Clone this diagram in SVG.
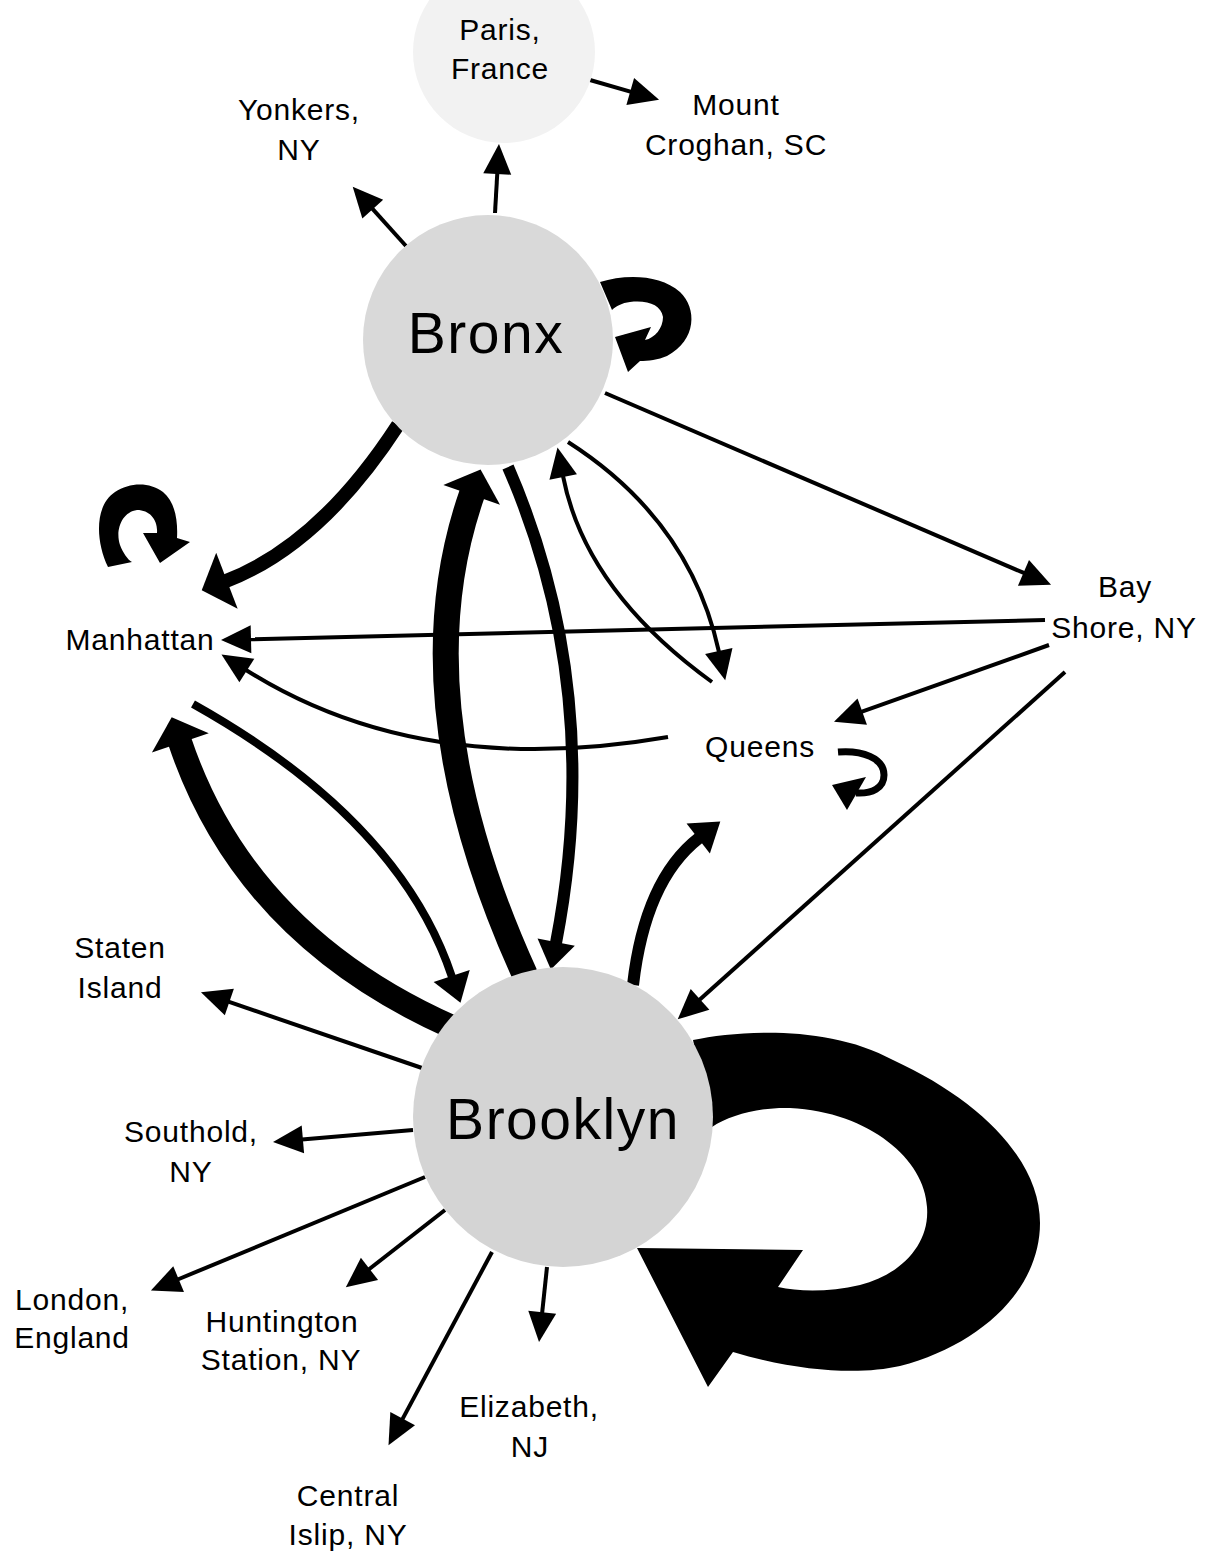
<svg xmlns="http://www.w3.org/2000/svg" width="1217" height="1553" viewBox="0 0 1217 1553">
<defs>
<style>
.lbl{font-family:"Liberation Sans",Arial,sans-serif;font-size:30px;letter-spacing:0.8px;fill:#000;text-anchor:middle}
.big{font-family:"Liberation Sans",Arial,sans-serif;font-size:57px;letter-spacing:1.5px;fill:#000;text-anchor:middle}
.e{fill:none;stroke:#000;stroke-linecap:butt}
.s{stroke-width:4;marker-end:url(#hs)}
.m{marker-end:url(#hm)}
.l{marker-end:url(#hl)}
.loop{fill:#000;stroke:none}
</style>
<marker id="hs" markerUnits="userSpaceOnUse" orient="auto" markerWidth="32" markerHeight="30" refX="1" refY="15" overflow="visible"><path d="M0,1 L30,15 L0,29 Z" fill="#000"/></marker>
<marker id="hm" markerUnits="userSpaceOnUse" orient="auto" markerWidth="30" markerHeight="40" refX="1" refY="20" overflow="visible"><path d="M0,1 L28,20 L0,39 Z" fill="#000"/></marker>
<marker id="hl" markerUnits="userSpaceOnUse" orient="auto" markerWidth="30" markerHeight="62" refX="1" refY="31" overflow="visible"><path d="M0,1 L27,31 L0,61 Z" fill="#000"/></marker>
</defs>
<rect width="1217" height="1553" fill="#fff"/>
<g id="connectors">
<path class="e s" d="M495 213 L497.3 173"/>
<path class="e s" d="M406 246 L372.1 208.3"/>
<path class="e s" d="M590 80 L631.2 91.8"/>
<path class="e s" d="M605 393 L1024.4 573.2"/>
<path class="e s" d="M1045 620 L250 639.3"/>
<path class="e s" d="M1049 645 L861.3 711.9"/>
<path class="e s" d="M1065 672 L699.3 1000"/>
<path class="e s" d="M422 1068 L228.4 1001.7"/>
<path class="e s" d="M413 1130 L301.9 1139.5"/>
<path class="e s" d="M425 1177 L177.7 1279.5"/>
<path class="e s" d="M445 1210 L368.7 1269.5"/>
<path class="e s" d="M492 1252 L402.2 1419.6"/>
<path class="e s" d="M547 1267 L542.1 1313.2"/>
<path class="e s" d="M568 442 Q690 520 719 652"/>
<path class="e s" d="M712 682 Q585 590 563 476"/>
<path class="e s" d="M668 737 Q420 780 246 670"/>
<path class="e m" stroke-width="8" d="M193 704 Q400 820 452 977"/>
<path class="e m" stroke-width="12" d="M508 467 Q605 690 556 943"/>
<path class="e m" stroke-width="12" d="M633 985 Q645 880 699 838"/>
<path class="e l" stroke-width="14" d="M398 425 Q320 545 226 581"/>
<path class="e l" stroke-width="26" d="M525 975 Q400 700 472 494"/>
<path class="e l" stroke-width="24" d="M452 1027 Q245 935 180 742"/>
<path class="loop" d="M600 282 C625 274,660 274,680 292 C697 308,697 340,667 356 C658 360,648 361,640 361 L628 372 L615 337 L651 327 L645 340 C655 338,663 328,663 317 C661 305,648 300,630 302 C622 303,616 306,612 310 Z"/>
<path class="loop" d="M108 567 C95 540,95 505,115 492 C130 482,150 482,163 492 C175 502,178 520,177 538 L190 542 L160 563 L143 533 L157 533 C158 520,150 510,137 510 C122 512,115 530,120 545 C123 553,128 560,132 562 Z"/>
<path class="e" stroke-width="7" d="M838 752 C862 750,884 758,884 775 C884 788,872 794,856 793"/>
<polygon points="832,785 866,777 847,810" fill="#000"/>
<path class="loop" d="M693 1040 C740 1030,830 1025,893 1060 C980 1100,1040 1160,1040 1223 C1040 1290,980 1345,900 1366 C860 1375,800 1372,733 1352 L708 1387 L637 1248 L803 1250 L778 1287 C800 1292,830 1292,860 1285 C900 1275,930 1245,927 1207 C925 1160,870 1112,790 1108 C760 1107,730 1115,712 1127 Z"/>
</g>
<g id="paris"><circle cx="504" cy="52" r="91" fill="#f2f2f2"/><text class="lbl" x="500" y="40">Paris,</text><text class="lbl" x="500" y="79">France</text></g>
<g id="bronx"><circle cx="488" cy="340" r="125" fill="#d9d9d9"/><text class="big" x="486" y="353">Bronx</text></g>
<g id="brooklyn"><circle cx="563" cy="1117" r="150" fill="#d4d4d4"/><text class="big" x="563" y="1139">Brooklyn</text></g>
<g id="yonkers"><text class="lbl" x="299" y="120">Yonkers,</text><text class="lbl" x="299" y="160">NY</text></g>
<g id="mount-croghan"><text class="lbl" x="736" y="115">Mount</text><text class="lbl" x="736" y="155">Croghan, SC</text></g>
<g id="bay-shore"><text class="lbl" x="1125" y="597">Bay</text><text class="lbl" x="1124" y="638">Shore, NY</text></g>
<g id="manhattan"><text class="lbl" x="140" y="650">Manhattan</text></g>
<g id="queens"><text class="lbl" x="760" y="757">Queens</text></g>
<g id="staten-island"><text class="lbl" x="120" y="958">Staten</text><text class="lbl" x="120" y="998">Island</text></g>
<g id="southold"><text class="lbl" x="191" y="1142">Southold,</text><text class="lbl" x="191" y="1182">NY</text></g>
<g id="london"><text class="lbl" x="72" y="1310">London,</text><text class="lbl" x="72" y="1348">England</text></g>
<g id="huntington"><text class="lbl" x="282" y="1332">Huntington</text><text class="lbl" x="281" y="1370">Station, NY</text></g>
<g id="elizabeth"><text class="lbl" x="529" y="1417">Elizabeth,</text><text class="lbl" x="530" y="1457">NJ</text></g>
<g id="central-islip"><text class="lbl" x="348" y="1506">Central</text><text class="lbl" x="348" y="1545">Islip, NY</text></g>
</svg>
